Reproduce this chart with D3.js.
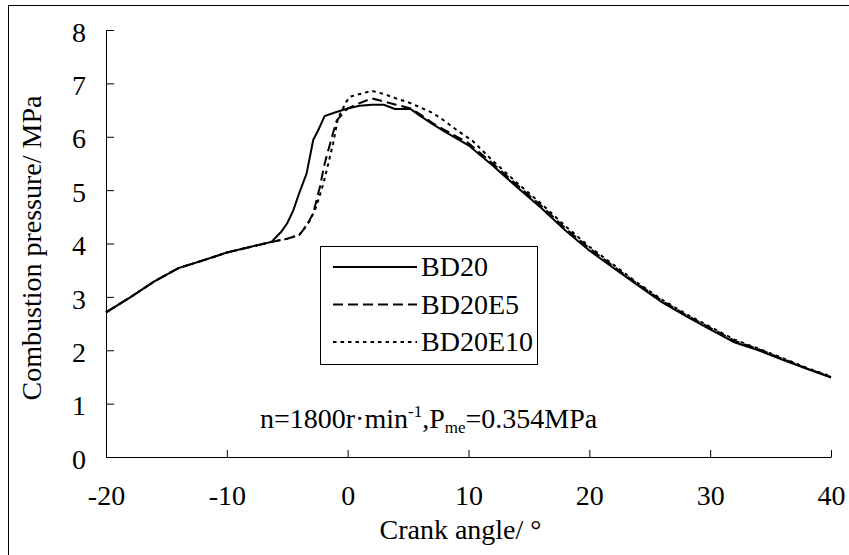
<!DOCTYPE html>
<html>
<head>
<meta charset="utf-8">
<script src="https://cdn.jsdelivr.net/npm/d3@7"></script>
<style>
body { margin: 0; background: #fff; }
text { font-family: "Liberation Serif", "Times New Roman", serif; fill: #000; }
</style>
</head>
<body>
<script>
var width = 849;
var height = 555;
var left = 106, top_ = 30, plot_w = 725, plot_h = 427;
var font_size = 28;

var series_names = ["BD20", "BD20E5", "BD20E10"];
var dashes = [null, "10,5", "3.5,4"];

var angle_bd20 = [-20,-18,-16,-14,-12,-10,-8,-6.3,-5.5,-5,-4.5,-4,-3.4,-2.85,-2.4,-1.9,-1,0,1,2,3,3.9,5.2,6,7,8,10,12,14,16,18,20,22,24,26,28,30,32,34,36,38,40];
var press_bd20 = [2.71,2.99,3.29,3.54,3.68,3.83,3.94,4.03,4.22,4.38,4.62,4.95,5.31,5.94,6.14,6.39,6.46,6.53,6.58,6.6,6.6,6.52,6.52,6.39,6.24,6.1,5.84,5.46,5.06,4.67,4.25,3.87,3.54,3.22,2.9,2.64,2.39,2.15,2.0,1.82,1.65,1.49];

var angle_e5 = [-20,-18,-16,-14,-12,-10,-8,-6.3,-5,-4,-3.4,-2.85,-2.3,-1.9,-1.3,-0.9,0,1,2,3,4,5.2,6,7,8,10,12,14,16,18,20,22,24,26,28,30,32,34,36,38,40];
var press_e5 = [2.71,2.99,3.29,3.54,3.68,3.83,3.94,4.03,4.09,4.16,4.33,4.57,5.06,5.5,6.0,6.31,6.53,6.63,6.72,6.66,6.6,6.53,6.42,6.26,6.13,5.88,5.5,5.1,4.71,4.29,3.91,3.57,3.24,2.93,2.66,2.42,2.18,2.02,1.84,1.66,1.5];

var angle_e10 = [-20,-18,-16,-14,-12,-10,-8,-6.3,-5,-4,-3.1,-2.6,-2,-1.6,-1.2,-0.8,-0.1,0.2,1,2,3,4,5.2,6,7,8,9,10.4,12,14,16,18,20,22,24,26,28,30,32,34,36,38,40];
var press_e10 = [2.71,2.99,3.29,3.54,3.68,3.83,3.94,4.03,4.09,4.16,4.44,4.69,5.13,5.5,5.88,6.35,6.66,6.75,6.8,6.86,6.8,6.72,6.63,6.55,6.45,6.3,6.13,5.91,5.55,5.14,4.75,4.33,3.94,3.6,3.26,2.95,2.68,2.44,2.2,2.03,1.85,1.67,1.51];

var x_ticks = [-20,-10,0,10,20,30,40];
var y_ticks = [0,1,2,3,4,5,6,7,8];

var x = d3.scaleLinear()
.domain([-20, 40])
.range([0, plot_w]);

var y = d3.scaleLinear()
.domain([0, 8])
.range([plot_h, 0]);

var svg = d3.select("body").append("svg")
.attr("width", width)
.attr("height", height)

// outer frame (only left and top edges are inside the picture)
svg.append("rect")
.attr("x", 8.5).attr("y", 5.5)
.attr("width", width + 20).attr("height", height + 20)
.attr("fill", "none").attr("stroke", "#000").attr("stroke-width", 1)

var g = svg.append("g")
.attr("transform", "translate(" + left + "," + top_ + ")")

// x axis, ticks point up into the plot
var gx = g.append("g")
.attr("transform", "translate(0," + plot_h + ")")
.call(d3.axisBottom(x).tickValues(x_ticks).tickFormat(function(d) { return String(d) })
  .tickSizeInner(-7).tickSizeOuter(0))
gx.select(".domain").attr("stroke", "#000")
gx.selectAll("text")
.attr("y", 48).attr("dy", 0)
.attr("font-size", font_size)

// y axis, ticks point right
var gy = g.append("g")
.call(d3.axisLeft(y).tickValues(y_ticks).tickFormat(function(d) { return String(d) })
  .tickSizeInner(-8).tickSizeOuter(0))
gy.selectAll("text")
.attr("x", -20).attr("dy", "0.4em")
.attr("font-size", font_size)
gy.select(".domain").attr("stroke", "#000")
svg.selectAll(".tick line").attr("stroke", "#000")

svg.append("text")
.attr("x", left + plot_w / 2 - 8)
.attr("y", 539)
.attr("text-anchor", "middle")
.attr("font-size", font_size)
.text("Crank angle/ \u00b0")

svg.append("text")
.attr("transform", "translate(41,248) rotate(-90)")
.attr("text-anchor", "middle")
.attr("font-size", font_size)
.text("Combustion pressure/ MPa")

// curves
var line = d3.line()
.x(function(d) { return x(d[0]) })
.y(function(d) { return y(d[1]) })

var all_data = [
  d3.zip(angle_bd20, press_bd20),
  d3.zip(angle_e5, press_e5),
  d3.zip(angle_e10, press_e10)
]

g.selectAll(".curve")
.data(all_data)
.enter().append("path")
.attr("class", "curve")
.attr("d", line)
.attr("fill", "none")
.attr("stroke", "#000")
.attr("stroke-width", 2)
.attr("stroke-dasharray", function(d, i) { return dashes[i] })

// legend
var legend = svg.append("g")
legend.append("rect")
.attr("x", 320.5).attr("y", 246.5)
.attr("width", 217).attr("height", 118)
.attr("fill", "#fff").attr("stroke", "#000").attr("stroke-width", 1)

series_names.forEach(function(name, i) {
    var ly = 267 + i * 37.5
    legend.append("line")
    .attr("x1", 333).attr("x2", 417)
    .attr("y1", ly).attr("y2", ly)
    .attr("stroke", "#000").attr("stroke-width", 2)
    .attr("stroke-dasharray", dashes[i])
    legend.append("text")
    .attr("x", 421).attr("y", ly + 9)
    .attr("font-size", font_size)
    .text(name)
})

// operating condition note
var note = svg.append("text")
.attr("x", 260).attr("y", 428)
.attr("font-size", font_size)
note.append("tspan").text("n=1800r\u00b7min")
note.append("tspan").attr("font-size", 17).attr("dy", -11).text("-1")
note.append("tspan").attr("dy", 11).text(",P")
note.append("tspan").attr("font-size", 17).attr("dy", 5).text("me")
note.append("tspan").attr("dy", -5).text("=0.354MPa")
</script>
</body>
</html>
